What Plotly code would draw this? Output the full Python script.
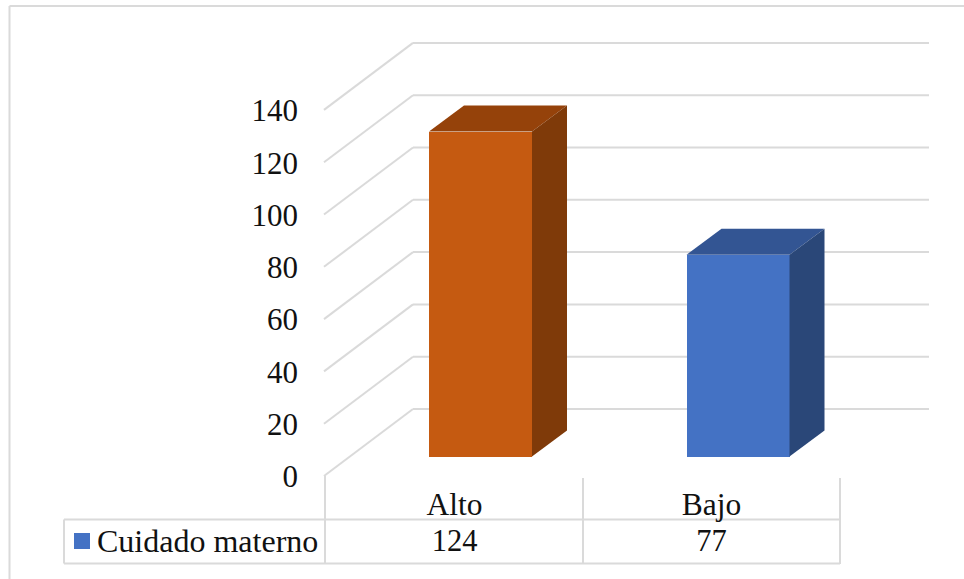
import plotly.graph_objects as go

categories = ["Alto", "Bajo"]
values = [124, 77]
series_name = "Cuidado materno"
front_colors = ["#C55A11", "#4472C4"]
top_colors = ["#95420A", "#335593"]
side_colors = ["#7F3A09", "#2A4778"]
ticks = [0, 20, 40, 60, 80, 100, 120, 140]

W, H = 964, 579
PX_CAT = 257.5
PX_VAL = 2.62
GRID_VAL = 2.615
X0_PX, Y0_PX = 480.5, 456.5


def X(px):
    return (px - X0_PX) / PX_CAT


def Y(py):
    return (Y0_PX - py) / PX_VAL


GRID = "#DADADA"
BAR_W = 103 / PX_CAT
DX, DY = 35 / PX_CAT, 26 / PX_VAL
SERIF = "Liberation Serif, Times New Roman, serif"
INK = "#111111"
COL_CENTERS = [X(454.5), X(711.5)]

fig = go.Figure()
fig.add_bar(
    x=[0, 1], y=values, width=BAR_W, marker=dict(color=front_colors, line=dict(width=0)),
    showlegend=False, hoverinfo="skip",
)

for i, v in enumerate(values):
    l, r = i - BAR_W / 2, i + BAR_W / 2
    fig.add_scatter(x=[l, r, r + DX, l + DX, l], y=[v, v, v + DY, v + DY, v], fill="toself",
                    fillcolor=top_colors[i], mode="lines", line=dict(width=0),
                    showlegend=False, hoverinfo="skip")
    fig.add_scatter(x=[r, r + DX, r + DX, r, r], y=[0, DY, v + DY, v, 0], fill="toself",
                    fillcolor=side_colors[i], mode="lines", line=dict(width=0),
                    showlegend=False, hoverinfo="skip")

# axis ticks live on an overlaid axis whose zero sits on the front floor edge
fig.add_scatter(x=[X(324)] * len(ticks), y=ticks, yaxis="y2", mode="markers",
                marker=dict(size=1, opacity=0), showlegend=False, hoverinfo="skip")

shapes = []


def seg(x0, y0, x1, y1, width=2):
    shapes.append(dict(type="line", xref="x", yref="y", x0=X(x0), y0=Y(y0), x1=X(x1), y1=Y(y1),
                       line=dict(color=GRID, width=width), layer="below"))


FRONT0, BACK0 = 476.0, 409.0
LABEL0 = 476.5
for t in ticks:
    off = t * GRID_VAL
    seg(324, FRONT0 - off, 413, BACK0 - off)
    seg(413, BACK0 - off, 929, BACK0 - off)

# data table grid
seg(325, 476, 325, 563)
seg(583, 478, 583, 563)
seg(840, 478, 840, 564)
seg(64, 519.5, 840, 519.5)
seg(64, 563.5, 840, 563.5)
seg(64, 519.5, 64, 563.5)

# outer chart frame: only top and left edges fall inside the picture
seg(9.5, 6, 964, 6)
seg(9.5, 6, 9.5, 579)

# table values and legend key
fig.add_scatter(x=COL_CENTERS, y=[Y(543)] * 2, text=[str(v) for v in values], mode="text",
                textfont=dict(family=SERIF, size=30.5, color=INK), showlegend=False, hoverinfo="skip")
fig.add_scatter(x=[X(82)], y=[Y(541)], mode="markers",
                marker=dict(symbol="square", size=16, color="#4472C4"), showlegend=False, hoverinfo="skip")
fig.add_annotation(x=X(95), y=Y(541), xref="x", yref="y", text=series_name, showarrow=False,
                   xanchor="left", font=dict(family=SERIF, size=32, color=INK))

fig.update_layout(
    width=W, height=H, margin=dict(l=0, r=0, t=0, b=0), paper_bgcolor="white", plot_bgcolor="white",
    shapes=shapes, bargap=0,
    xaxis=dict(range=[X(0), X(W)], showgrid=False, zeroline=False, showline=False,
               tickmode="array", tickvals=COL_CENTERS, ticktext=categories, ticklen=0,
               anchor="free", position=1 - 482 / H,
               tickfont=dict(family=SERIF, size=31.5, color=INK)),
    yaxis=dict(range=[Y(H), Y(0)], visible=False),
    yaxis2=dict(range=[(LABEL0 - H) / GRID_VAL, LABEL0 / GRID_VAL], overlaying="y", side="left",
                anchor="free", position=298 / W, showgrid=False, zeroline=False, showline=False,
                tickmode="array", tickvals=ticks, ticklen=0,
                tickfont=dict(family=SERIF, size=31, color=INK)),
)

fig.write_html("out.html", config=dict(displayModeBar=False),
               post_script="document.body.style.margin='0';document.documentElement.style.overflow='hidden';")
